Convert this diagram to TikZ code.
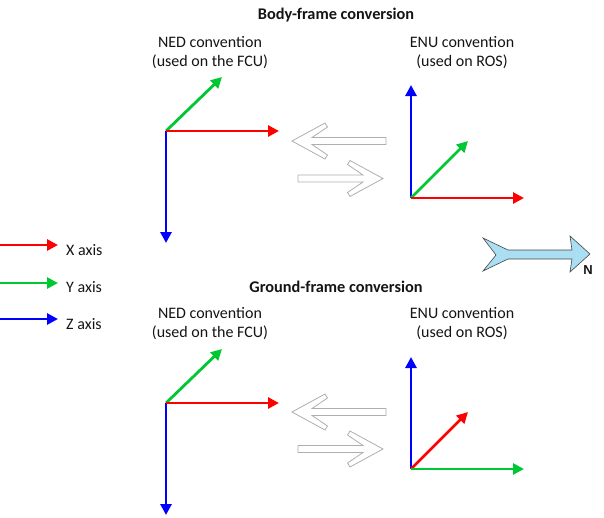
\documentclass[tikz,border=0pt]{standalone}
\usepackage{fontspec}
\setmainfont{Carlito}
\newfontfamily\arialf{Liberation Sans}
\usetikzlibrary{arrows.meta}
\definecolor{axr}{RGB}{255,0,0}
\definecolor{axg}{RGB}{0,200,50}
\definecolor{axb}{RGB}{0,0,255}
\definecolor{hollowgray}{RGB}{175,175,175}
\definecolor{nfill}{RGB}{170,222,242}
\definecolor{nline}{RGB}{70,70,70}
\definecolor{txtc}{RGB}{20,20,20}
\tikzset{
  axis/.style={line width=2.8pt,-{Triangle[length=11pt,width=11pt]}},
  xax/.style={axis,draw=axr,fill=axr},
  yax/.style={axis,draw=axg,fill=axg},
  zax/.style={axis,draw=axb,fill=axb},
  txt/.style={font=\fontsize{16}{19}\selectfont,align=center,inner sep=0pt,text=txtc},
  ttl/.style={font=\fontsize{16.3}{19}\selectfont\bfseries,inner sep=0pt,text=txtc},
  legtxt/.style={font=\fontsize{16}{19}\selectfont,anchor=west,inner sep=0pt,text=txtc},
  hollow/.style={draw=hollowgray,line width=0.8pt,fill=white,line join=miter},
  pics/hollowarrow/.style={code={
    \draw[hollow] (0,0) -- (-33,-18) -- (-35.5,-14) -- (-20,-3.5) -- (-#1,-3.5)
      -- (-#1,3.5) -- (-20,3.5) -- (-35.5,14) -- (-33,18) -- cycle;}}
}
\begin{document}
\begin{tikzpicture}[x=1pt,y=-1pt]
\useasboundingbox (0,0) rectangle (604,517);
% titles
\node[ttl] (t1) at (336,15) {Body-frame conversion};
\node[ttl] (t2) at (336,287) {Ground-frame conversion};
\node[txt] (ned1) at (210,53) {NED convention\\(used on the FCU)};
\node[txt] (enu1) at (462,53) {ENU convention\\(used on ROS)};
\node[txt] (ned2) at (210,324) {NED convention\\(used on the FCU)};
\node[txt] (enu2) at (462,324) {ENU convention\\(used on ROS)};
% body NED
\coordinate (o1) at (166,131);
\coordinate (x1) at (279,131);
\coordinate (y1) at (222,77);
\coordinate (z1) at (166,243);
\draw[yax] (o1) -- (y1);
\draw[zax] (o1) -- (z1);
\draw[xax] (o1) -- (x1);
% body ENU
\coordinate (o2) at (411,198);
\coordinate (x2) at (524,198);
\coordinate (y2) at (468,141);
\coordinate (z2) at (411,85);
\draw[zax] (o2) -- (z2);
\draw[yax] (o2) -- (y2);
\draw[xax] (o2) -- (x2);
% ground NED
\coordinate (o3) at (166,403);
\coordinate (x3) at (279,403);
\coordinate (y3) at (222,349);
\coordinate (z3) at (166,515);
\draw[yax] (o3) -- (y3);
\draw[zax] (o3) -- (z3);
\draw[xax] (o3) -- (x3);
% ground ENU
\coordinate (o4) at (411,469);
\coordinate (x4) at (468,412);
\coordinate (y4) at (524,469);
\coordinate (z4) at (411,357);
\draw[zax] (o4) -- (z4);
\draw[xax] (o4) -- (x4);
\draw[yax] (o4) -- (y4);
% conversion arrows
\pic[rotate=180] at (292,141) {hollowarrow=94};
\pic at (383,178.5) {hollowarrow=85};
\pic[rotate=180] at (292,412) {hollowarrow=94};
\pic at (383,449) {hollowarrow=85};
% legend
\coordinate (lx0) at (0,245);
\coordinate (lx1) at (58,245);
\coordinate (ly0) at (0,283);
\coordinate (ly1) at (58,283);
\coordinate (lz0) at (0,319);
\coordinate (lz1) at (58,319);
\draw[xax] (lx0) -- (lx1);
\draw[yax] (ly0) -- (ly1);
\draw[zax] (lz0) -- (lz1);
\node[legtxt] (lxt) at (66,250) {X axis};
\node[legtxt] (lyt) at (66,287) {Y axis};
\node[legtxt] (lzt) at (66,324) {Z axis};
% north arrow
\draw[fill=nfill,draw=nline,line width=0.6pt,line join=miter]
  (590,254) -- (570,236) -- (572,250) -- (508,250) -- (483,238) -- (496,255)
  -- (483,271) -- (508,259) -- (572,259) -- (570,272) -- cycle;
\node[font=\arialf\bfseries\fontsize{13}{14}\selectfont,inner sep=0pt,text=txtc] (nlab) at (588,270) {N};
\end{tikzpicture}
\end{document}
